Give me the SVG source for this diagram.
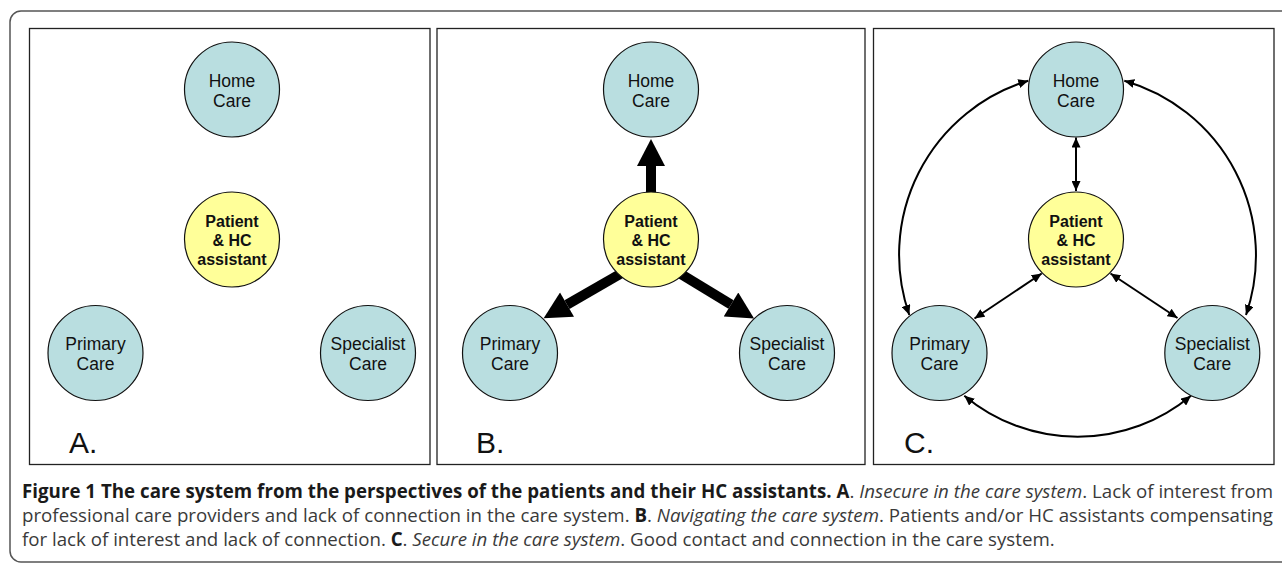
<svg xmlns="http://www.w3.org/2000/svg" width="1282" height="565" viewBox="0 0 1282 565">
<style>
.frame{fill:none;stroke:#555;stroke-width:1.5}
.panel{fill:#fff;stroke:#222;stroke-width:1.3}
.care{fill:#b9dee0;stroke:#111;stroke-width:1.2}
.pat{fill:#ffff99;stroke:#111;stroke-width:1.2}
.t{font-family:"Liberation Sans",Arial,sans-serif;font-size:17.5px;fill:#111;text-anchor:middle}
.tb{font-family:"Liberation Sans",Arial,sans-serif;font-size:16px;font-weight:bold;fill:#111;text-anchor:middle}
.lab{font-family:"Liberation Sans",Arial,sans-serif;font-size:30px;fill:#111}
.thick{stroke:#000;stroke-width:10;fill:none;marker-end:url(#big)}
.thin{stroke:#000;stroke-width:2;fill:none;marker-start:url(#small);marker-end:url(#small)}
.cap{font-family:"Open Sans","Noto Sans",sans-serif;font-size:18.7px;fill:#3a3a3a}
.b{font-weight:bold;fill:#1a1a1a}
.i{font-style:italic}
</style>
<defs>
<marker id="big" markerUnits="userSpaceOnUse" markerWidth="28" markerHeight="28" refX="0" refY="14" orient="auto" viewBox="0 0 27 28">
<path d="M0,0 L27,14 L0,28 z" fill="#000"/>
</marker>
<marker id="small" markerUnits="userSpaceOnUse" markerWidth="10" markerHeight="9" refX="10" refY="4.5" orient="auto-start-reverse" viewBox="0 0 10 9">
<path d="M0,0 L10,4.5 L0,9 z" fill="#000"/>
</marker>
</defs>
<rect class="frame" x="10" y="11" width="1320" height="551" rx="11"/>
<g id="panelA">
<rect class="panel" x="29.5" y="28.5" width="400.5" height="436"/>
<text class="lab" x="69" y="453">A.</text>
</g>
<g id="panelB">
<rect class="panel" x="437" y="28.5" width="428" height="436"/>
<text class="lab" x="476" y="453">B.</text>
</g>
<g id="panelC">
<rect class="panel" x="873.5" y="28.5" width="400.5" height="436"/>
<text class="lab" x="904" y="453">C.</text>
</g>
<g id="connectors">
<line class="thick" x1="651" y1="196" x2="651" y2="166"/>
<line class="thick" x1="621" y1="273.5" x2="567" y2="304.7"/>
<line class="thick" x1="680" y1="273.5" x2="731" y2="304.5"/>
<line class="thin" x1="1076" y1="137.5" x2="1076" y2="191"/>
<line class="thin" x1="1041.7" y1="273.5" x2="974.5" y2="318.5"/>
<line class="thin" x1="1110.5" y1="273.5" x2="1177.5" y2="318"/>
<path class="thin" d="M1028.3,80.7 A182,182 0 0 0 909.3,315"/>
<path class="thin" d="M1124.3,80.7 A182,182 0 0 1 1246,315"/>
<path class="thin" d="M964.3,395.7 A177,177 0 0 0 1191,395.7"/>
</g>
<g id="A_home"><circle class="care" cx="232" cy="89.5" r="47.5"/><text class="t" x="232" y="86.5">Home</text><text class="t" x="232" y="107.3">Care</text></g>
<g id="A_patient"><circle class="pat" cx="232" cy="239.5" r="47.5"/><text class="tb" x="232" y="226.7">Patient</text><text class="tb" x="232" y="245.9">&amp; HC</text><text class="tb" x="232" y="265">assistant</text></g>
<g id="A_primary"><circle class="care" cx="95.5" cy="353" r="47.5"/><text class="t" x="95.5" y="349.5">Primary</text><text class="t" x="95.5" y="370.3">Care</text></g>
<g id="A_specialist"><circle class="care" cx="368" cy="353" r="47.5"/><text class="t" x="368" y="349.5">Specialist</text><text class="t" x="368" y="370.3">Care</text></g>
<g id="B_home"><circle class="care" cx="651" cy="89.5" r="47.5"/><text class="t" x="651" y="86.5">Home</text><text class="t" x="651" y="107.3">Care</text></g>
<g id="B_patient"><circle class="pat" cx="651" cy="239.5" r="47.5"/><text class="tb" x="651" y="226.7">Patient</text><text class="tb" x="651" y="245.9">&amp; HC</text><text class="tb" x="651" y="265">assistant</text></g>
<g id="B_primary"><circle class="care" cx="510" cy="353" r="47.5"/><text class="t" x="510" y="349.5">Primary</text><text class="t" x="510" y="370.3">Care</text></g>
<g id="B_specialist"><circle class="care" cx="787" cy="353" r="47.5"/><text class="t" x="787" y="349.5">Specialist</text><text class="t" x="787" y="370.3">Care</text></g>
<g id="C_home"><circle class="care" cx="1076" cy="89.5" r="47.5"/><text class="t" x="1076" y="86.5">Home</text><text class="t" x="1076" y="107.3">Care</text></g>
<g id="C_patient"><circle class="pat" cx="1076" cy="239.5" r="47.5"/><text class="tb" x="1076" y="226.7">Patient</text><text class="tb" x="1076" y="245.9">&amp; HC</text><text class="tb" x="1076" y="265">assistant</text></g>
<g id="C_primary"><circle class="care" cx="939.5" cy="353" r="47.5"/><text class="t" x="939.5" y="349.5">Primary</text><text class="t" x="939.5" y="370.3">Care</text></g>
<g id="C_specialist"><circle class="care" cx="1212.3" cy="353" r="47.5"/><text class="t" x="1212.3" y="349.5">Specialist</text><text class="t" x="1212.3" y="370.3">Care</text></g>
<g id="caption">
<text class="cap" x="22" y="498" textLength="1251" lengthAdjust="spacing"><tspan class="b">Figure 1 The care system from the perspectives of the patients and their HC assistants. A</tspan>. <tspan class="i">Insecure in the care system</tspan>. Lack of interest from</text>
<text class="cap" x="22" y="522" textLength="1251" lengthAdjust="spacing">professional care providers and lack of connection in the care system. <tspan class="b">B</tspan>. <tspan class="i">Navigating the care system</tspan>. Patients and/or HC assistants compensating</text>
<text class="cap" x="22" y="546">for lack of interest and lack of connection. <tspan class="b">C</tspan>. <tspan class="i">Secure in the care system</tspan>. Good contact and connection in the care system.</text>
</g>
</svg>
